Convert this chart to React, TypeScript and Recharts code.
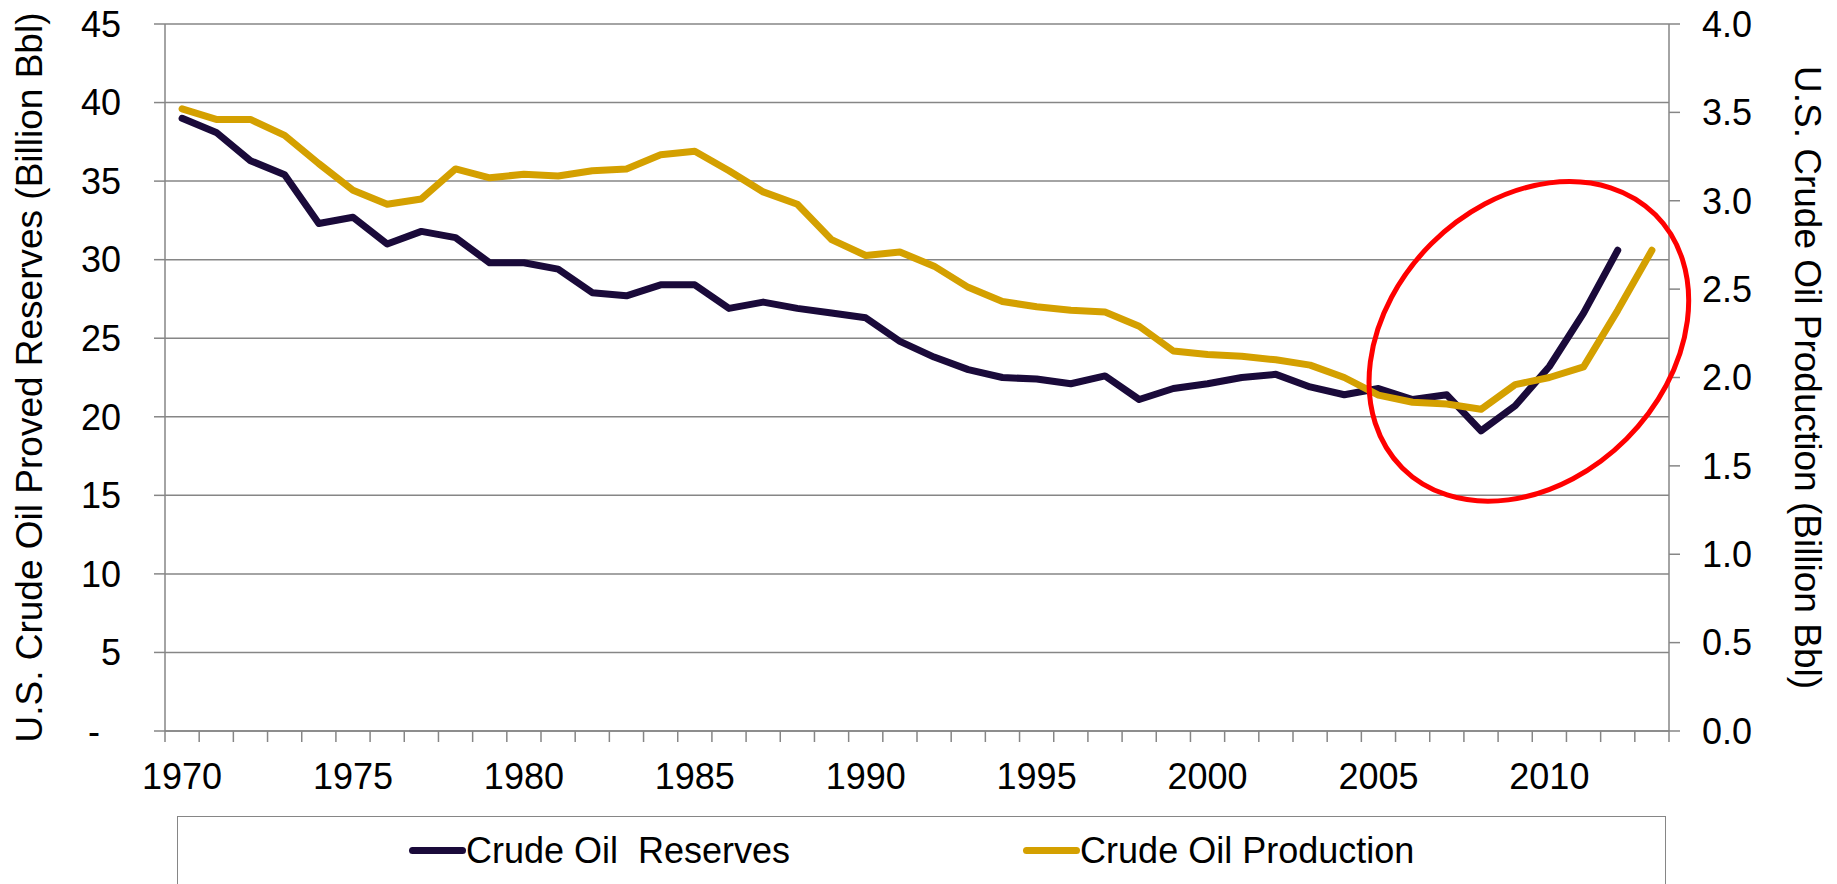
import { LineChart, Line, XAxis, YAxis, CartesianGrid, Legend, ReferenceDot, Label } from "recharts";

const years = [
  1970, 1971, 1972, 1973, 1974, 1975, 1976, 1977, 1978, 1979,
  1980, 1981, 1982, 1983, 1984, 1985, 1986, 1987, 1988, 1989,
  1990, 1991, 1992, 1993, 1994, 1995, 1996, 1997, 1998, 1999,
  2000, 2001, 2002, 2003, 2004, 2005, 2006, 2007, 2008, 2009,
  2010, 2011, 2012, 2013,
];

// billion bbl, left axis
const reserves = [
  39.0, 38.1, 36.3, 35.4, 32.3, 32.7, 31.0, 31.8, 31.4, 29.8,
  29.8, 29.4, 27.9, 27.7, 28.4, 28.4, 26.9, 27.3, 26.9, 26.6,
  26.3, 24.8, 23.8, 23.0, 22.5, 22.4, 22.1, 22.6, 21.1, 21.8,
  22.1, 22.5, 22.7, 21.9, 21.4, 21.8, 21.1, 21.4, 19.1, 20.7,
  23.2, 26.6, 30.6, null,
];

// billion bbl, right axis
const production = [
  3.52, 3.46, 3.46, 3.37, 3.21, 3.06, 2.98, 3.01, 3.18, 3.13,
  3.15, 3.14, 3.17, 3.18, 3.26, 3.28, 3.17, 3.05, 2.98, 2.78,
  2.69, 2.71, 2.63, 2.51, 2.43, 2.40, 2.38, 2.37, 2.29, 2.15,
  2.13, 2.12, 2.10, 2.07, 2.00, 1.90, 1.86, 1.85, 1.82, 1.96,
  2.00, 2.06, 2.38, 2.72,
];

const leftTicks = [0, 5, 10, 15, 20, 25, 30, 35, 40, 45];
const rightTicks = [0, 0.5, 1, 1.5, 2, 2.5, 3, 3.5, 4];

const data = years.map((year, i) => ({
  year,
  reserves: reserves[i],
  production: production[i],
}));

const W = 1837;
const H = 884;
const LEFT_W = 165;
const RIGHT_W = 168;
const BW = (W - LEFT_W - RIGHT_W) / years.length;
const TICK = 11;
const X_MARGIN = 21;
const FONT = '"Liberation Sans", Arial, sans-serif';
const GRID = "#868686";

function XTick({ x, y, payload, index }: any) {
  const top = y - X_MARGIN - TICK;
  const isLast = index === years.length - 1;
  return (
    <g>
      <line x1={x - BW / 2} x2={x - BW / 2} y1={top} y2={top + TICK} stroke={GRID} strokeWidth={1.5} />
      {isLast && <line x1={x + BW / 2} x2={x + BW / 2} y1={top} y2={top + TICK} stroke={GRID} strokeWidth={1.5} />}
      {payload.value % 5 === 0 && (
        <text x={x} y={y} dy="0.71em" textAnchor="middle" fontSize={36} fontFamily={FONT} fill="#000">
          {payload.value}
        </text>
      )}
    </g>
  );
}

function LeftTick({ x, y, payload }: any) {
  const zero = payload.value === 0;
  return (
    <text x={x} y={y} dx={zero ? -21 : 0} dy="0.355em" textAnchor="end" fontSize={36} fontFamily={FONT} fill="#000">
      {zero ? "-" : payload.value}
    </text>
  );
}

function AxisTitle({ viewBox, text, side }: any) {
  const { x, y, height } = viewBox;
  const cx = side === "left" ? x + 29 : x + 138;
  const cy = y + height / 2;
  const angle = side === "left" ? -90 : 90;
  return (
    <text
      x={cx}
      y={cy}
      transform={`rotate(${angle}, ${cx}, ${cy})`}
      textAnchor="middle"
      dominantBaseline="central"
      fontSize={37}
      fontFamily={FONT}
      fill="#000"
    >
      {text}
    </text>
  );
}

// red ring drawn around the recent turnaround
function Highlight({ cx, cy }: any) {
  const ex = cx + BW * 0.4;
  return (
    <ellipse
      cx={ex}
      cy={cy}
      rx={179}
      ry={138}
      transform={`rotate(-45, ${ex}, ${cy})`}
      fill="none"
      stroke="#FF0000"
      strokeWidth={5}
    />
  );
}

function LegendBox({ payload }: any) {
  return (
    <div
      style={{
        boxSizing: "border-box",
        width: "100%",
        height: "100%",
        borderTop: `1.5px solid ${GRID}`,
        borderLeft: `1.5px solid ${GRID}`,
        borderRight: `1.5px solid ${GRID}`,
        display: "flex",
        alignItems: "center",
        paddingLeft: 231,
        gap: 233,
        fontFamily: FONT,
        fontSize: 36,
        color: "#000",
      }}
    >
      {(payload || []).map((p: any) => (
        <div key={p.value} style={{ display: "flex", alignItems: "center" }}>
          <span style={{ display: "inline-block", width: 57, height: 7, borderRadius: 3.5, background: p.color }} />
          <span style={{ whiteSpace: "pre", lineHeight: "36px" }}>{p.value}</span>
        </div>
      ))}
    </div>
  );
}

export default function App() {
  return (
    <div style={{ position: "absolute", left: 0, top: 0, width: W, height: H, overflow: "hidden", background: "#fff" }}>
      <LineChart width={W} height={H} data={data} margin={{ top: 24, right: 0, bottom: 0, left: 0 }}>
        <CartesianGrid yAxisId="left" vertical={false} stroke={GRID} strokeWidth={1.5} />
        <XAxis
          dataKey="year"
          height={153}
          interval={0}
          padding={{ left: BW / 2, right: BW / 2 }}
          tickLine={false}
          tickSize={TICK}
          tickMargin={X_MARGIN}
          tick={<XTick />}
          axisLine={{ stroke: GRID, strokeWidth: 1.5 }}
        />
        <YAxis
          yAxisId="left"
          width={LEFT_W}
          domain={[0, 45]}
          ticks={leftTicks}
          interval={0}
          tickSize={TICK}
          tickMargin={33}
          tick={<LeftTick />}
          tickLine={{ stroke: GRID, strokeWidth: 1.5 }}
          axisLine={{ stroke: GRID, strokeWidth: 1.5 }}
        >
          <Label content={(p: any) => <AxisTitle viewBox={p.viewBox} side="left" text="U.S. Crude Oil Proved Reserves (Billion Bbl)" />} />
        </YAxis>
        <YAxis
          yAxisId="right"
          orientation="right"
          width={RIGHT_W}
          domain={[0, 4]}
          ticks={rightTicks}
          interval={0}
          tickSize={TICK}
          tickMargin={22}
          tickFormatter={(v: number) => v.toFixed(1)}
          tick={{ fill: "#000", fontSize: 36, fontFamily: FONT }}
          tickLine={{ stroke: GRID, strokeWidth: 1.5 }}
          axisLine={{ stroke: GRID, strokeWidth: 1.5 }}
        >
          <Label content={(p: any) => <AxisTitle viewBox={p.viewBox} side="right" text="U.S. Crude Oil Production (Billion Bbl)" />} />
        </YAxis>
        <Legend
          layout="horizontal"
          verticalAlign="middle"
          align="center"
          wrapperStyle={{ left: 177, top: 816, width: 1489, height: 68 }}
          content={(p: any) => <LegendBox payload={p.payload} />}
        />
        <Line
          yAxisId="left"
          dataKey="reserves"
          name="Crude Oil  Reserves"
          stroke="#1A0A3A"
          strokeWidth={7}
          strokeLinecap="round"
          strokeLinejoin="round"
          dot={false}
          activeDot={false}
          isAnimationActive={false}
        />
        <Line
          yAxisId="right"
          dataKey="production"
          name="Crude Oil Production"
          stroke="#D4A000"
          strokeWidth={7}
          strokeLinecap="round"
          strokeLinejoin="round"
          dot={false}
          activeDot={false}
          isAnimationActive={false}
        />
        <ReferenceDot yAxisId="left" x={2009} y={24.8} shape={<Highlight />} />
      </LineChart>
    </div>
  );
}
